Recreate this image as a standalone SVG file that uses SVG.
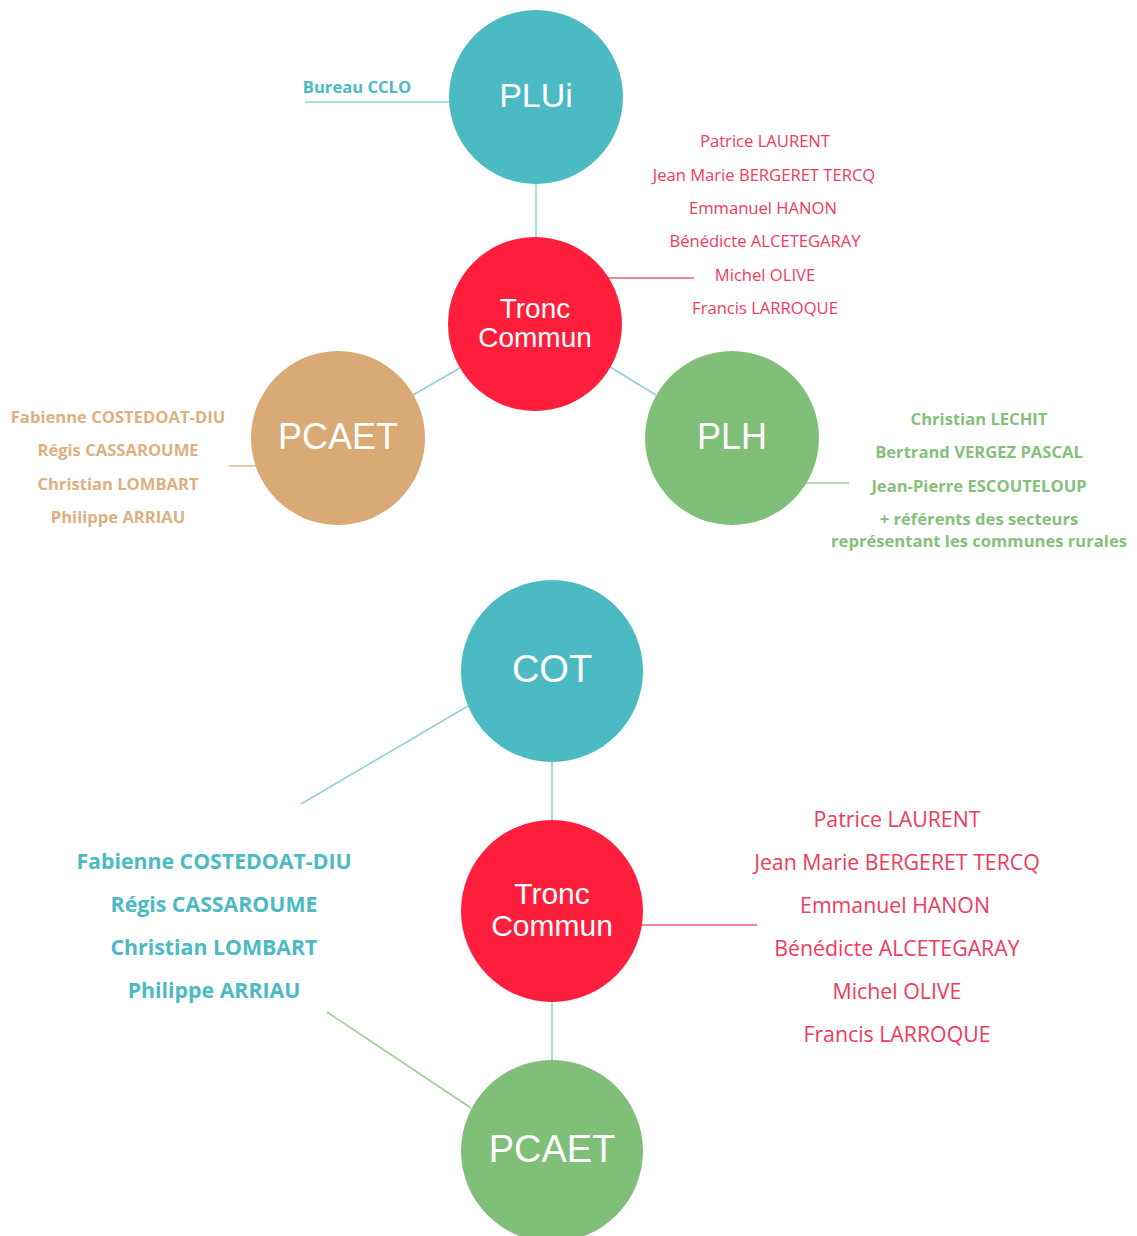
<svg xmlns="http://www.w3.org/2000/svg" width="1137" height="1236" viewBox="0 0 1137 1236">
  <style>
    .lbl { font-family: "Liberation Sans", Arial, sans-serif; fill: #ffffff; text-anchor: middle; dominant-baseline: central; }
    .nm { font-family: "Open Sans", "Noto Sans", sans-serif; text-anchor: middle; dominant-baseline: central; }
    .b { font-weight: bold; }
    .s1 { font-size: 16.6px; }
    .s2 { font-size: 21.3px; }
    .red { fill: #f23a5c; }
    .teal { fill: #4bbac2; }
    .tan { fill: #dcb080; }
    .green { fill: #86c07b; }
    .ln { fill: none; stroke-width: 1.6; }
    .lt { stroke: #8fd3da; }
    .lr { stroke: #f35a74; }
    .la { stroke: #e2bf96; }
    .lg { stroke: #9ccf94; }
  </style>
  <rect width="1137" height="1236" fill="#ffffff"/>

  <!-- connectors -->
  <g id="connectors">
    <line class="ln lt" x1="305" y1="102" x2="452" y2="102"/>
    <line class="ln lt" x1="536" y1="180" x2="536" y2="240"/>
    <line class="ln lr" x1="605" y1="278" x2="694" y2="278"/>
    <line class="ln lt" x1="460" y1="368" x2="413" y2="395"/>
    <line class="ln lt" x1="610" y1="367" x2="656" y2="395"/>
    <line class="ln la" x1="229" y1="466" x2="260" y2="466"/>
    <line class="ln lg" x1="805" y1="483" x2="849" y2="483"/>

    <line class="ln lt" x1="468" y1="706" x2="301" y2="804"/>
    <line class="ln lt" x1="552" y1="760" x2="552" y2="822"/>
    <line class="ln lr" x1="640" y1="925" x2="757" y2="925"/>
    <line class="ln lt" x1="552" y1="1000" x2="552" y2="1062"/>
    <line class="ln lg" x1="327" y1="1012" x2="471" y2="1108"/>
  </g>

  <!-- upper diagram -->
  <g id="plui">
    <circle cx="536" cy="97" r="87" fill="#4bbac2"/>
    <text class="lbl" x="536" y="95" font-size="34">PLUi</text>
  </g>
  <g id="bureau-cclo">
    <text class="nm b teal s1" x="357" y="86">Bureau CCLO</text>
  </g>
  <g id="tronc-commun-1">
    <circle cx="535" cy="324" r="87" fill="#ff1f3d"/>
    <text class="lbl" x="535" y="308" font-size="28">Tronc</text>
    <text class="lbl" x="535" y="337" font-size="28">Commun</text>
  </g>
  <g id="tronc-commun-1-members">
    <text class="nm red s1" x="765" y="140">Patrice LAURENT</text>
    <text class="nm red s1" x="764" y="174">Jean Marie BERGERET TERCQ</text>
    <text class="nm red s1" x="763" y="207">Emmanuel HANON</text>
    <text class="nm red s1" x="765" y="240">Bénédicte ALCETEGARAY</text>
    <text class="nm red s1" x="765" y="274">Michel OLIVE</text>
    <text class="nm red s1" x="765" y="307">Francis LARROQUE</text>
  </g>
  <g id="pcaet-1">
    <circle cx="338" cy="438" r="87" fill="#d9aa75"/>
    <text class="lbl" x="338" y="436" font-size="36">PCAET</text>
  </g>
  <g id="pcaet-1-members">
    <text class="nm b tan s1" x="118" y="416">Fabienne COSTEDOAT-DIU</text>
    <text class="nm b tan s1" x="118" y="449">Régis CASSAROUME</text>
    <text class="nm b tan s1" x="118" y="483">Christian LOMBART</text>
    <text class="nm b tan s1" x="118" y="516">Philippe ARRIAU</text>
  </g>
  <g id="plh">
    <circle cx="732" cy="438" r="87" fill="#80bf78"/>
    <text class="lbl" x="732" y="436" font-size="36">PLH</text>
  </g>
  <g id="plh-members">
    <text class="nm b green s1" x="979" y="418">Christian LECHIT</text>
    <text class="nm b green s1" x="979" y="451">Bertrand VERGEZ PASCAL</text>
    <text class="nm b green s1" x="979" y="485">Jean-Pierre ESCOUTELOUP</text>
    <text class="nm b green s1" x="979" y="518">+ référents des secteurs</text>
    <text class="nm b green s1" x="979" y="540">représentant les communes rurales</text>
  </g>

  <!-- lower diagram -->
  <g id="cot">
    <circle cx="552" cy="671" r="91" fill="#4bbac2"/>
    <text class="lbl" x="552" y="669" font-size="38">COT</text>
  </g>
  <g id="cot-members">
    <text class="nm b teal s2" x="214" y="860">Fabienne COSTEDOAT-DIU</text>
    <text class="nm b teal s2" x="214" y="903">Régis CASSAROUME</text>
    <text class="nm b teal s2" x="214" y="946">Christian LOMBART</text>
    <text class="nm b teal s2" x="214" y="989">Philippe ARRIAU</text>
  </g>
  <g id="tronc-commun-2">
    <circle cx="552" cy="911" r="91" fill="#ff1f3d"/>
    <text class="lbl" x="552" y="893" font-size="30">Tronc</text>
    <text class="lbl" x="552" y="925" font-size="30">Commun</text>
  </g>
  <g id="tronc-commun-2-members">
    <text class="nm red s2" x="897" y="818">Patrice LAURENT</text>
    <text class="nm red s2" x="897" y="861">Jean Marie BERGERET TERCQ</text>
    <text class="nm red s2" x="895" y="904">Emmanuel HANON</text>
    <text class="nm red s2" x="897" y="947">Bénédicte ALCETEGARAY</text>
    <text class="nm red s2" x="897" y="990">Michel OLIVE</text>
    <text class="nm red s2" x="897" y="1033">Francis LARROQUE</text>
  </g>
  <g id="pcaet-2">
    <circle cx="552" cy="1151" r="91" fill="#80bf78"/>
    <text class="lbl" x="552" y="1149" font-size="38">PCAET</text>
  </g>
</svg>
